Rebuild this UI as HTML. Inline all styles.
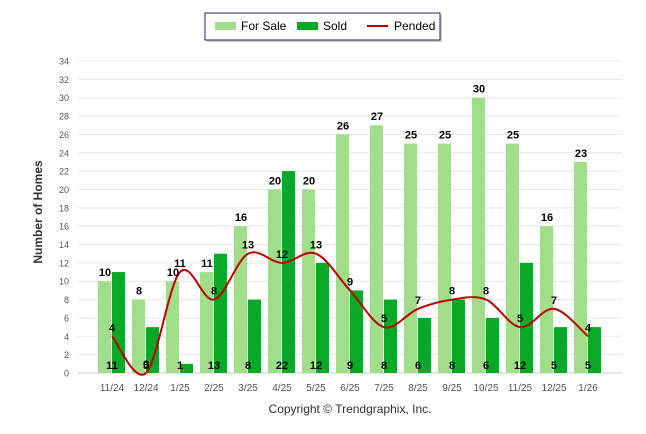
<!DOCTYPE html>
<html><head><meta charset="utf-8"><style>
body{margin:0;background:#fff;font-family:"Liberation Sans",Arial,sans-serif}
svg{display:block}
</style></head><body>
<svg id="c" width="646" height="434">
<g>
<rect x="207" y="15" width="235" height="27" fill="#999" opacity="0.5"/>
<rect x="205" y="13" width="235" height="27" fill="#fff" stroke="#1b2a5a" stroke-width="1"/>
<rect x="215" y="22" width="21" height="8" fill="#a1de8a"/>
<text x="241" y="30" font-size="12" fill="#000">For Sale</text>
<rect x="297" y="22" width="21" height="8" fill="#0aa827"/>
<text x="323" y="30" font-size="12" fill="#000">Sold</text>
<line x1="367" y1="26" x2="388" y2="26" stroke="#c00000" stroke-width="2"/>
<text x="394" y="30" font-size="12" fill="#000">Pended</text>
</g>
<g id="grid"></g><g id="bars"></g><g id="line"></g><g id="labels"></g>
<text transform="translate(42,212) rotate(-90)" text-anchor="middle" font-size="12" font-weight="bold" fill="#333">Number of Homes</text>
<text x="350" y="413" text-anchor="middle" font-size="12" fill="#333">Copyright © Trendgraphix, Inc.</text>
</svg>
<script>
const categories=["11/24","12/24","1/25","2/25","3/25","4/25","5/25","6/25","7/25","8/25","9/25","10/25","11/25","12/25","1/26"];
const forSale=[10,8,10,11,16,20,20,26,27,25,25,30,25,16,23];
const sold=[11,5,1,13,8,22,12,9,8,6,8,6,12,5,5];
const pended=[4,0,11,8,13,12,13,9,5,7,8,8,5,7,4];
const yTicks=[0,2,4,6,8,10,12,14,16,18,20,22,24,26,28,30,32,34];
const NS="http://www.w3.org/2000/svg";
const y=v=>373-v*(312/34);
const x=i=>112+i*34;
function mk(tag,attrs,parent,text){const e=document.createElementNS(NS,tag);for(const k in attrs)e.setAttribute(k,attrs[k]);if(text!==undefined)e.textContent=text;document.getElementById(parent).appendChild(e);return e;}
yTicks.forEach(t=>{
 const l=mk('line',{x1:78,x2:622,y1:y(t),y2:y(t),stroke:t===0?'#ccc':'#e8e8e8','stroke-width':1},'grid');
 
 
 const tx=mk('text',{x:69,y:y(t)+3.5,'text-anchor':'end','font-size':9,fill:'#555'},'grid',t);
 
 
});
categories.forEach((c,i)=>{
 const tx=mk('text',{x:x(i),y:391,'text-anchor':'middle','font-size':10,fill:'#555'},'grid',c);
 
 
 const a=mk('rect',{x:x(i)-14,y:y(forSale[i]),width:13,height:y(0)-y(forSale[i]),fill:'#a1de8a'},'bars');
 
 
 const b=mk('rect',{x:x(i),y:y(sold[i]),width:13,height:y(0)-y(sold[i]),fill:'#0aa827'},'bars');
 
 
 const l1=mk('text',{x:x(i)-7,y:y(forSale[i])-5,'text-anchor':'middle','font-size':11,'font-weight':'bold',fill:'#000'},'labels',forSale[i]);
 
 
 const l2=mk('text',{x:x(i),y:369,'text-anchor':'middle','font-size':11,'font-weight':'bold',fill:'#000'},'labels',sold[i]);
 
 
 const l3=mk('text',{x:x(i),y:y(pended[i])-5,'text-anchor':'middle','font-size':11,'font-weight':'bold',fill:'#000'},'labels',pended[i]);
 
 
});
const pts=pended.map((v,i)=>[x(i),y(v)]);
let d=`M${pts[0][0]},${pts[0][1]}`;
for(let i=0;i<pts.length-1;i++){
 const p0=pts[Math.max(0,i-1)],p1=pts[i],p2=pts[i+1],p3=pts[Math.min(pts.length-1,i+2)];
 const t=1/6;
 d+=` C${p1[0]+(p2[0]-p0[0])*t},${p1[1]+(p2[1]-p0[1])*t} ${p2[0]-(p3[0]-p1[0])*t},${p2[1]-(p3[1]-p1[1])*t} ${p2[0]},${p2[1]}`;
}
const path=mk('path',{d:d,fill:'none',stroke:'#c00000','stroke-width':2},'line');


</script>
</body></html>
